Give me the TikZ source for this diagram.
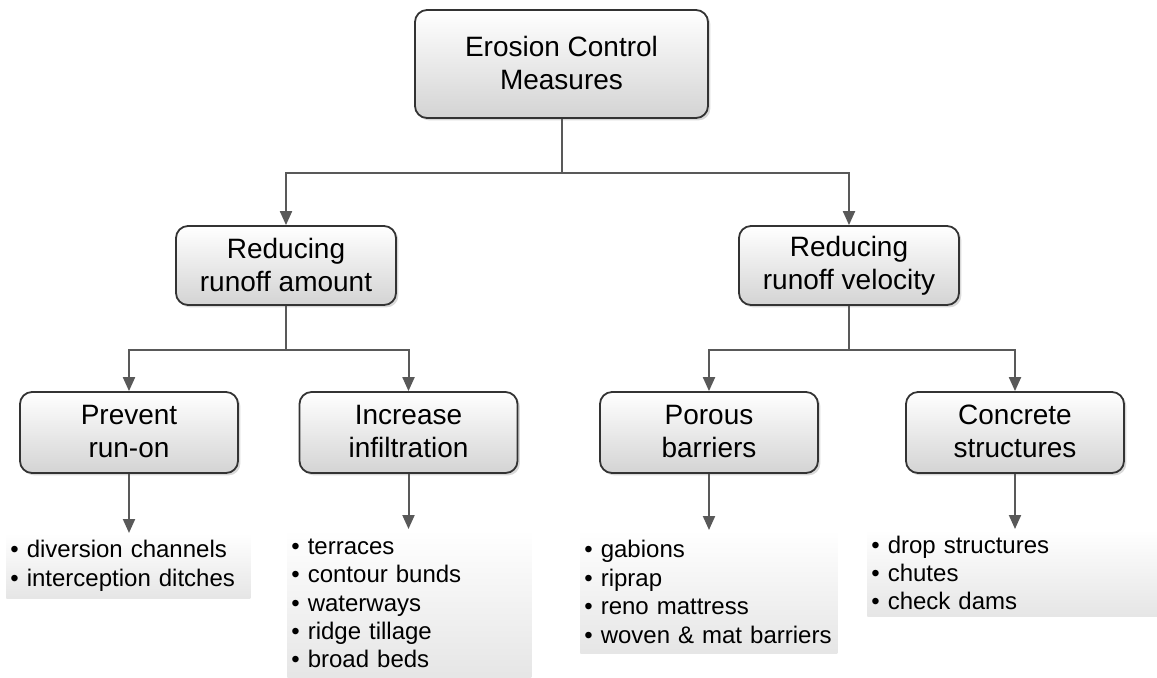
\documentclass[tikz,border=0pt]{standalone}
\usepackage{fontspec}
\setmainfont{Liberation Sans}
\usetikzlibrary{arrows.meta,shadows}
\hyphenpenalty=10000

\begin{document}
\begin{tikzpicture}[x=0.5pt,y=-0.5pt,
    box/.style={draw=black!80,line width=0.9pt,rounded corners=6pt,
      top color=white,bottom color=black!17,
      drop shadow={shadow xshift=1.2pt,shadow yshift=-1.2pt,opacity=0.3},
      align=center,inner sep=0pt,font=\fontsize{14}{16.5}\selectfont,
      execute at begin node={\rule{0pt}{13pt}},
      execute at end node={\rule[-1pt]{0pt}{0pt}}},
    items/.style={top color=white,bottom color=black!10,anchor=north west,
      align=left,inner xsep=2pt,inner ysep=0pt,
      font=\fontsize{12}{14.2}\selectfont},
    wire/.style={draw=black!65,line width=1pt},
    link/.style={wire,-{Triangle[length=7pt,width=6pt]}}]
  \useasboundingbox (0,0) rectangle (1157,677);

  % boxes
  \node[box,minimum width=146.5pt,minimum height=54pt] (measures) at (561.5,64) {Erosion Control\\Measures};
  \node[box,minimum width=110pt,minimum height=39.5pt] (amount) at (286,265.5) {Reducing\\runoff amount};
  \node[box,minimum width=110pt,minimum height=39.5pt] (velocity) at (849,265.5) {Reducing\\runoff velocity};

  \node[box,minimum width=109pt,minimum height=40.5pt] (runon) at (129,432.5) {Prevent\\run-on};
  \node[box,minimum width=109pt,minimum height=40.5pt] (infil) at (408.5,432.5) {Increase\\infiltration};
  \node[box,minimum width=109pt,minimum height=40.5pt] (porous) at (709,432.5) {Porous\\barriers};
  \node[box,minimum width=109pt,minimum height=40.5pt] (concrete) at (1015,432.5) {Concrete\\structures};

  % lists
  \node[items,text width=118pt,minimum height=32.5pt] (runonlist) at (6,533)
    {\textbullet\ diversion channels\\\textbullet\ interception ditches};
  \node[items,text width=118pt,minimum height=74pt] (infillist) at (287,529)
    {\textbullet\ terraces\\\textbullet\ contour bunds\\\textbullet\ waterways\\\textbullet\ ridge tillage\\\textbullet\ broad beds};
  \node[items,text width=124.5pt,minimum height=61.5pt] (porouslist) at (580,530)
    {\textbullet\ gabions\\\textbullet\ riprap\\\textbullet\ reno mattress\\\textbullet\ woven \& mat barriers};
  \node[items,text width=141pt,minimum height=43.5pt] (concretelist) at (867,529)
    {\textbullet\ drop structures\\\textbullet\ chutes\\\textbullet\ check dams};

  % connectors
  \coordinate (split1) at (561.5,173);
  \coordinate (split2) at (286,350);
  \coordinate (split3) at (849,350);

  \draw[wire] (measures) -- (split1);
  \draw[link] (split1) -| (amount);
  \draw[link] (split1) -| (velocity);

  \draw[wire] (amount) -- (split2);
  \draw[link] (split2) -| (runon);
  \draw[link] (split2) -| (infil);

  \draw[wire] (velocity) -- (split3);
  \draw[link] (split3) -| (porous);
  \draw[link] (split3) -| (concrete);

  \draw[link] (runon) -- (runon |- runonlist.north);
  \draw[link] (infil) -- (infil |- infillist.north);
  \draw[link] (porous) -- (porous |- porouslist.north);
  \draw[link] (concrete) -- (concrete |- concretelist.north);
\end{tikzpicture}
\end{document}
